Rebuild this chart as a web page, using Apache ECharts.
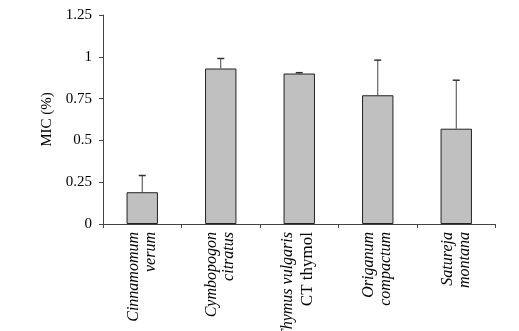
<!DOCTYPE html>
<html>
<head>
<meta charset="utf-8">
<script src="https://cdn.jsdelivr.net/npm/echarts@6/dist/echarts.min.js"></script>
<style>html,body{margin:0;padding:0;background:#fff}#c{width:519px;height:331px}</style>
</head>
<body>
<div id="c"></div>
<script>
const categoryLine1 = ['Cinnamomum', 'Cymbopogon', 'Thymus vulgaris', 'Origanum', 'Satureja'];
const categoryLine2 = ['verum', 'citratus', 'CT thymol', 'compactum', 'montana'];
const line2Italic = [true, true, false, true, true];
const micValues = [0.19, 0.93, 0.90, 0.77, 0.57];
const micErrors = [0.10, 0.06, 0.005, 0.21, 0.29];
const yTicks = [0, 0.25, 0.5, 0.75, 1, 1.25];

const categories = categoryLine1.map((c, i) => c + '|' + categoryLine2[i]);
const errData = micValues.map((v, i) => [i, v, v + micErrors[i]]);

const chart = echarts.init(document.getElementById('c'), null, {renderer: 'canvas'});
const font = '"Liberation Serif", "Times New Roman", serif';
chart.setOption({
  animation: false,
  backgroundColor: '#fff',
  grid: {left: 103, right: 23.5, top: 15, bottom: 107, containLabel: false, outerBoundsMode: 'none'},
  xAxis: {
    type: 'category',
    data: categories,
    axisLine: {lineStyle: {color: '#444', width: 1}},
    axisTick: {show: true, length: 4, lineStyle: {color: '#444'}},
    axisLabel: {
      rotate: 90,
      margin: 8,
      interval: 0,
      color: '#000',
      fontFamily: font,
      fontSize: 16,
      lineHeight: 17,
      formatter: function (val) {
        const i = categories.indexOf(val);
        return '{i|' + categoryLine1[i] + '}\n{' + (line2Italic[i] ? 'i' : 'n') + '|' + categoryLine2[i] + '}';
      },
      rich: {
        i: {fontStyle: 'italic', fontFamily: font, fontSize: 16, lineHeight: 17, color: '#000'},
        n: {fontStyle: 'normal', fontFamily: font, fontSize: 17, lineHeight: 22, color: '#000'}
      }
    }
  },
  yAxis: {
    type: 'value',
    min: 0,
    max: yTicks[yTicks.length - 1],
    interval: 0.25,
    name: 'MIC (%)',
    nameLocation: 'middle',
    nameGap: 44,
    nameTextStyle: {fontFamily: font, fontSize: 15, color: '#000'},
    axisLine: {show: true, lineStyle: {color: '#444', width: 1}},
    axisTick: {show: true, length: 4, lineStyle: {color: '#444'}},
    axisLabel: {color: '#000', fontFamily: font, fontSize: 15, margin: 11},
    splitLine: {show: false}
  },
  series: [
    {
      type: 'bar',
      data: micValues,
      barWidth: '40%',
      itemStyle: {color: '#c0c0c0', borderColor: '#222', borderWidth: 1}
    },
    {
      type: 'custom',
      data: errData,
      encode: {x: 0, y: [1, 2]},
      z: 5,
      renderItem: function (params, api) {
        const i = api.value(0);
        const p0 = api.coord([i, api.value(1)]);
        const p1 = api.coord([i, api.value(2)]);
        const hw = 3.5;
        return {
          type: 'group',
          children: [
            {type: 'line', shape: {x1: p0[0], y1: p0[1], x2: p1[0], y2: p1[1]}, style: {stroke: '#444', lineWidth: 1}},
            {type: 'line', shape: {x1: p1[0] - hw, y1: p1[1], x2: p1[0] + hw, y2: p1[1]}, style: {stroke: '#333', lineWidth: 1.5}}
          ]
        };
      }
    }
  ]
});
</script>
</body>
</html>
